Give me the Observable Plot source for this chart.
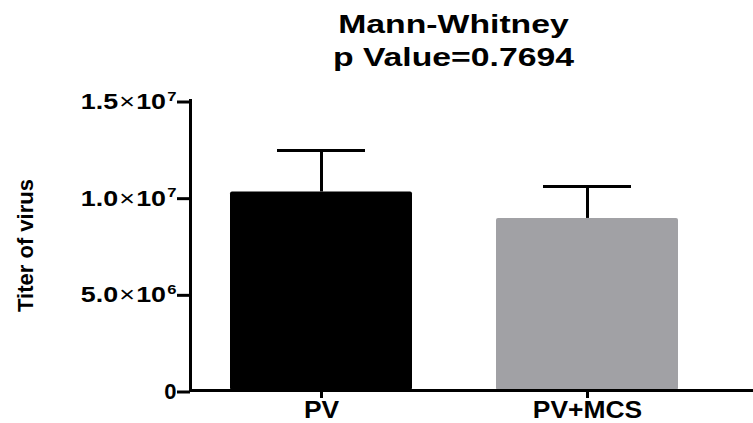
<!DOCTYPE html>
<html>
<head>
<meta charset="utf-8">
<script src="https://cdn.jsdelivr.net/npm/d3@7"></script>
<script src="https://cdn.jsdelivr.net/npm/@observablehq/plot@0.6"></script>
<style>
  html, body { margin: 0; padding: 0; background: #fff; }
</style>
</head>
<body>
<div id="chart"></div>
<script>
// ---- data ----
const categories = ["PV", "PV+MCS"];
const means = [1.027e7, 8.9e6];          // bar heights
const errTops = [1.241e7, 1.055e7];      // mean + error
const barColors = ["#000000", "#a1a1a5"];
const yTicks = [0, 5e6, 1e7, 1.5e7];
const titleLines = ["Mann-Whitney", "p Value=0.7694"];
const yLabel = "Titer of virus";

const data = categories.map((c, i) => ({cat: c, mean: means[i], top: errTops[i]}));

const fmt = d => {
  if (d === 0) return "0";
  const e = Math.floor(Math.log10(d));
  return `${(d / 10 ** e).toFixed(1)}×10^${e}`;
};

const chart = Plot.plot({
  width: 753,
  height: 423,
  marginLeft: 190,
  marginRight: 0,
  marginTop: 100,
  marginBottom: 33,
  style: {fontFamily: "'Liberation Sans', Arial, sans-serif", background: "white", color: "black"},
  x: {domain: categories, range: [190, 718], paddingInner: 0.316, paddingOuter: 0.15},
  y: {domain: [0, 1.5e7]},
  color: {domain: categories, range: barColors},
  marks: [
    Plot.barY(data, {x: "cat", y: "mean", fill: "cat", rx: 2}),
    Plot.ruleX(data, {x: "cat", y1: "mean", y2: "top", stroke: "black", strokeWidth: 3}),
    Plot.tickY(data, {x: "cat", y: "top", stroke: "black", strokeWidth: 3, insetLeft: 47, insetRight: 47}),
    Plot.ruleY([0], {stroke: "black", strokeWidth: 3}),
    Plot.frame({anchor: "left", stroke: "black", strokeWidth: 3}),
    Plot.axisY({ticks: yTicks, tickFormat: fmt, tickSize: 13, tickPadding: 1, strokeWidth: 3,
      fontSize: 22, fontWeight: "bold", label: null, dy: 1.5}),
    Plot.axisX({tickSize: 8, tickPadding: 2, strokeWidth: 3, fontSize: 24, fontWeight: "bold", label: null}),
    Plot.text([titleLines[0]], {frameAnchor: "top", lineAnchor: "middle", dx: -18.5, dy: -76,
      fontSize: 25, fontWeight: "bold"}),
    Plot.text([titleLines[1]], {frameAnchor: "top", lineAnchor: "middle", dx: -18.5, dy: -42.5,
      fontSize: 25, fontWeight: "bold"}),
    Plot.text([yLabel], {frameAnchor: "left", rotate: -90, textAnchor: "middle", lineAnchor: "middle",
      dx: -165, fontSize: 22, fontWeight: "bold"})
  ]
});

// horizontal stretch of a text about its own anchor
const stretch = (t, s) => {
  const x = +t.getAttribute("x") || 0;
  const prev = t.getAttribute("transform") || "";
  t.setAttribute("transform", `${prev} translate(${x},0) scale(${s},1) translate(${-x},0)`);
};

chart.querySelectorAll("text").forEach(t => {
  if (titleLines.includes(t.textContent)) stretch(t, 1.35);
  if (categories.includes(t.textContent) && t.closest('g[aria-label="x-axis tick label"]')) stretch(t, 1.1);
});

// rebuild scientific tick labels with a superscript exponent
const NS = "http://www.w3.org/2000/svg";
chart.querySelectorAll('g[aria-label="y-axis tick label"] text').forEach(t => {
  const s = t.textContent;
  if (!s.includes("^")) return;
  const [base, exp] = s.split("^");
  const [mant] = base.split("×");
  t.textContent = "";
  const add = (txt, attrs) => {
    const ts = document.createElementNS(NS, "tspan");
    ts.textContent = txt;
    for (const k in attrs) ts.setAttribute(k, attrs[k]);
    t.appendChild(ts);
  };
  add(mant, {});
  add("×", {"font-weight": "normal", dx: "1"});
  add("10", {dx: "1"});
  add(exp, {"font-size": "0.62em", dy: "-0.62em", dx: "1"});
  stretch(t, 1.22);
});

document.getElementById("chart").appendChild(chart);
</script>
</body>
</html>
